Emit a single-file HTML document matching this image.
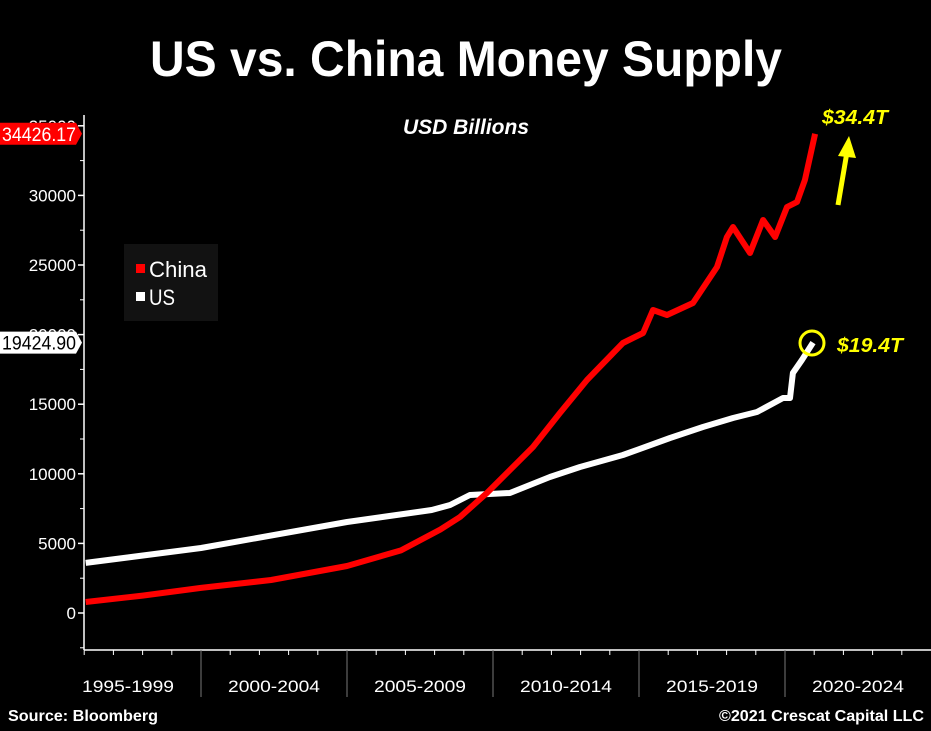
<!DOCTYPE html>
<html><head><meta charset="utf-8"><style>
html,body{margin:0;padding:0;background:#000;}
svg{display:block;}
text{font-family:"Liberation Sans",sans-serif;}
</style></head><body>
<svg id="chart" width="931" height="731" viewBox="0 0 931 731" xmlns="http://www.w3.org/2000/svg">
<rect width="931" height="731" fill="#000"/>
<text x="466" y="76" text-anchor="middle" fill="#fff" font-size="50" font-weight="bold" textLength="632" lengthAdjust="spacingAndGlyphs">US vs. China Money Supply</text>
<text x="466" y="134" text-anchor="middle" fill="#fff" font-size="21" font-weight="bold" font-style="italic">USD Billions</text>
<g id="axes"></g>
<g id="series"></g>
<g>
<rect x="124" y="244" width="94" height="77" fill="#121212"/>
<rect x="136" y="264" width="9" height="9" fill="#f00"/>
<text x="149" y="277" fill="#fff" font-size="22" textLength="58" lengthAdjust="spacingAndGlyphs">China</text>
<rect x="136" y="292" width="9" height="9" fill="#fff"/>
<text x="149" y="305" fill="#fff" font-size="22" textLength="26" lengthAdjust="spacingAndGlyphs">US</text>
</g>
<g>
<text x="822" y="124" fill="#ffff00" font-size="20" font-weight="bold" font-style="italic" textLength="66" lengthAdjust="spacingAndGlyphs">$34.4T</text>
<line x1="838" y1="205" x2="847" y2="152" stroke="#ffff00" stroke-width="5"/>
<polygon points="849,136 838,156 856,158" fill="#ffff00"/>
<circle cx="812" cy="343" r="12" fill="none" stroke="#ffff00" stroke-width="3"/>
<text x="837" y="352" fill="#ffff00" font-size="20" font-weight="bold" font-style="italic" textLength="66" lengthAdjust="spacingAndGlyphs">$19.4T</text>
</g>
<text x="8" y="721" fill="#fff" font-size="16" font-weight="bold" textLength="150" lengthAdjust="spacingAndGlyphs">Source: Bloomberg</text>
<text x="924" y="721" text-anchor="end" fill="#fff" font-size="16" font-weight="bold" textLength="205" lengthAdjust="spacingAndGlyphs">©2021 Crescat Capital LLC</text>
</svg>
<script>
const chinaYears=[1996.05,1998,2000,2002.4,2005,2006.85,2008.2,2008.87,2009.79,2011.37,2012.29,2013.22,2014.45,2015.14,2015.48,2015.96,2016.85,2017.67,2018.01,2018.22,2018.8,2019.25,2019.66,2020.07,2020.41,2020.68,2021.03];
const chinaValues=[790,1250,1800,2370,3380,4500,6000,6897,8621,11925,14368,16739,19397,20115,21767,21408,22270,24856,27011,27730,25862,28233,27011,29167,29526,31106,34426.17];
const usYears=[1996.05,2000,2005,2007.9,2008.53,2009.21,2010.58,2011.95,2012.98,2014.45,2016.06,2017.19,2018.22,2019.04,2019.93,2020.17,2020.27,2020.58,2020.96];
const usValues=[3600,4670,6540,7400,7759,8477,8621,9770,10489,11351,12572,13362,14009,14440,15445,15445,17241,18175,19424.9];
const yTicks=[0,5000,10000,15000,20000,25000,30000,35000];
const periodLabels=["1995-1999","2000-2004","2005-2009","2010-2014","2015-2019","2020-2024"];
const periodStarts=[1995,2000,2005,2010,2015,2020];

const NS="http://www.w3.org/2000/svg";
const xScale=y=>55+(y-1995)*29.2;
const yScale=v=>613-v*(69.6/5000);
const axes=document.getElementById('axes');
const series=document.getElementById('series');
function mk(tag,attrs,parent){const e=document.createElementNS(NS,tag);for(const k in attrs)e.setAttribute(k,attrs[k]);parent.appendChild(e);return e;}

let l=mk('line',{x1:84,y1:115,x2:84,y2:650,stroke:'#fff','stroke-width':1.5},axes);


l=mk('line',{x1:84,y1:650,x2:931,y2:650,stroke:'#fff','stroke-width':1.5},axes);


for(let i=-1;i<yTicks.length;i++){
  const v=(i<0?-2500:yTicks[i]+2500);
  if(v<=36000){const yy=yScale(v);const t=mk('line',{x1:80,y1:yy,x2:84,y2:yy,stroke:'#fff','stroke-width':1},axes);
  
  }
}
yTicks.forEach(v=>{
  const yy=yScale(v);
  const t=mk('line',{x1:78,y1:yy,x2:84,y2:yy,stroke:'#fff','stroke-width':1.5},axes);
  
  
  const tx=mk('text',{x:76,y:yy+6,'text-anchor':'end',fill:'#fff','font-size':17},axes);
  tx.textContent=String(v);
  
  
});
for(let yr=1996;yr<=2024;yr++){
  const xx=xScale(yr);
  if(yr%5===0){
    const d=mk('line',{x1:xx,y1:650,x2:xx,y2:697,stroke:'#777','stroke-width':1},axes);
    
    
  }else{
    const t=mk('line',{x1:xx,y1:650,x2:xx,y2:655,stroke:'#fff','stroke-width':1},axes);
    
    
  }
}
periodLabels.forEach((lab,i)=>{
  const xx=xScale(periodStarts[i]+2.5);
  const tx=mk('text',{x:xx,y:692,'text-anchor':'middle',fill:'#fff','font-size':17,textLength:92,lengthAdjust:'spacingAndGlyphs'},axes);
  tx.textContent=lab;
  
  
});
function path(xs,vs){return xs.map((x,i)=>(i?'L':'M')+xScale(x).toFixed(1)+','+yScale(vs[i]).toFixed(1)).join(' ');}
let p=mk('path',{d:path(usYears,usValues),fill:'none',stroke:'#fff','stroke-width':6,'stroke-linejoin':'round'},series);


p=mk('path',{d:path(chinaYears,chinaValues),fill:'none',stroke:'#f00','stroke-width':6,'stroke-linejoin':'round'},series);


function badge(v,fill,tcol,name){
  const yy=yScale(v);
  const g=mk('g',{},axes);
  
  
  mk('polygon',{points:`0,${yy-11} 76,${yy-11} 82,${yy} 76,${yy+11} 0,${yy+11}`,fill:fill},g);
  const tx=mk('text',{x:2,y:yy+7,fill:tcol,'font-size':19,textLength:74,lengthAdjust:'spacingAndGlyphs'},g);
  tx.textContent=v.toFixed(2);
}
badge(chinaValues[chinaValues.length-1],'#f00','#fff','china-last-value-badge');
badge(usValues[usValues.length-1],'#fff','#000','us-last-value-badge');
</script>
</body></html>
